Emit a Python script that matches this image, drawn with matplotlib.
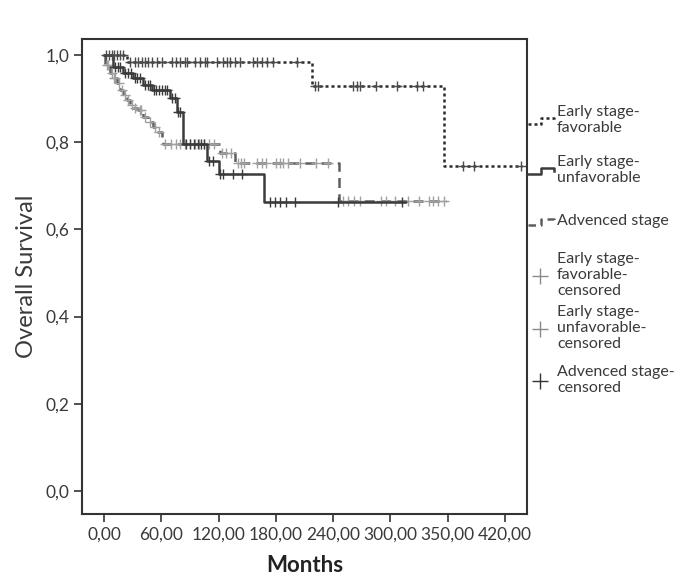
import matplotlib
matplotlib.use('Agg')
import matplotlib.pyplot as plt
import numpy as np

plt.rcParams['font.family'] = ['Lato', 'DejaVu Sans']

# Kaplan-Meier steps (months, survival)
fav_t = [0, 24, 218, 356]
fav_s = [1.0, 0.985, 0.93, 0.745]
fav_end = 438
fav_cens = [2, 5, 8, 11, 14, 17, 20, 27, 33, 36, 40, 43, 46, 50, 56, 61, 71, 75,
            80, 85, 87, 95, 101, 106, 108, 118, 125, 129, 132, 137, 142, 156, 160,
            165, 171, 177, 202, 221, 224, 261, 265, 268, 285, 307, 328, 334, 376,
            388, 437]

unf_t = [0, 9, 20, 30, 41, 50, 69, 77, 83, 108, 120, 168]
unf_s = [1.0, 0.972, 0.959, 0.947, 0.931, 0.92, 0.901, 0.869, 0.797, 0.758, 0.727, 0.663]
unf_end = 315
unf_cens = [12, 15, 17, 22, 25, 28, 32, 35, 38, 43, 46, 48, 52, 55, 58, 61, 64, 66,
            71, 74, 78, 80, 86, 90, 94, 98, 102, 105, 110, 114, 122, 125, 135, 145,
            174, 179, 184, 191, 200, 245, 312]

adv_t = [0, 1, 6, 9, 14, 17, 20, 24, 27, 30, 36, 41, 46, 51, 56, 61, 62, 121, 137, 246]
adv_s = [1.0, 0.977, 0.959, 0.947, 0.936, 0.92, 0.908, 0.897, 0.885, 0.878, 0.874,
         0.858, 0.846, 0.835, 0.823, 0.812, 0.797, 0.775, 0.752, 0.665]
adv_end = 358
adv_cens = [3, 4, 8, 11, 12, 16, 19, 22, 25, 29, 33, 38, 39, 43, 48, 53, 58, 64, 70,
            75, 80, 85, 90, 95, 100, 105, 110, 115, 124, 128, 133, 140, 143, 147,
            160, 165, 170, 180, 184, 188, 193, 205, 222, 235, 250, 256, 262, 268,
            290, 295, 305, 318, 330, 340, 345, 350, 356]

xtick_pos = [0, 60, 120, 180, 240, 300, 360, 420]
xtick_lab = ['0,00', '60,00', '120,00', '180,00', '240,00', '300,00', '350,00', '420,00']
ytick_pos = [0.0, 0.2, 0.4, 0.6, 0.8, 1.0]
ytick_lab = ['0,0', '0,2', '0,4', '0,6', '0,8', '1,0']


def level_at(times, surv, t):
    idx = np.searchsorted(times, t, side='right') - 1
    return np.array(surv)[idx]


fig = plt.figure(figsize=(6.86, 5.82), dpi=100)
ax = fig.add_axes([82 / 686, 68 / 582, 445 / 686, 475 / 582])

curves = [
    (adv_t, adv_s, adv_end, adv_cens, '#5e5e5e', (0, (4, 2.5)), '#a0a0a0'),
    (unf_t, unf_s, unf_end, unf_cens, '#3c3c3c', '-', '#3a3a3a'),
    (fav_t, fav_s, fav_end, fav_cens, '#2a2a2a', (0, (1.2, 1.2)), '#4a4a4a'),
]
for t, s, end, cens, col, ls, ccol in curves:
    ax.step(t + [end], s + [s[-1]], where='post', color=col, lw=1.8, ls=ls)
    ax.plot(cens, level_at(t, s, cens), ls='none', marker='+', ms=7,
            mew=1.0, color=ccol)

ax.set_xlim(-23, 443)
ax.set_ylim(-0.053, 1.037)
ax.set_xticks(xtick_pos)
ax.set_xticklabels(xtick_lab)
ax.set_yticks(ytick_pos)
ax.set_yticklabels(ytick_lab)
ax.tick_params(labelsize=12.5, length=6, width=1.2, color='#333333',
               labelcolor='#3a3a3a', pad=3)
for sp in ax.spines.values():
    sp.set_linewidth(1.5)
    sp.set_color('#333333')
ax.set_xlabel('Months', fontsize=16, fontweight='bold', color='#222222', labelpad=9)
ax.set_ylabel('Overall Survival', fontsize=17, color='#3a3a3a', labelpad=6)

# legend drawn outside the axes, in pixel space
lax = fig.add_axes([0, 0, 1, 1])
lax.set_xlim(0, 686)
lax.set_ylim(582, 0)
lax.axis('off')

step_x = [528, 541, 541, 554, 554]
step_items = [
    ('Early stage-\nfavorable', 121, '#2a2a2a', (0, (1.2, 1.2))),
    ('Early stage-\nunfavorable', 171, '#3c3c3c', '-'),
    ('Advenced stage', 222, '#5e5e5e', (0, (3, 2))),
]
for lab, yc, col, ls in step_items:
    lax.plot(step_x, [yc + 3, yc + 3, yc - 3, yc - 3, yc], color=col, lw=1.8, ls=ls)
    lax.text(557, yc - 1, lab, fontsize=11.5, color='#3a3a3a',
             va='center', ha='left', linespacing=1.15)

cens_items = [
    ('Early stage-\nfavorable-\ncensored', 276, '#8a8a8a'),
    ('Early stage-\nunfavorable-\ncensored', 329, '#8a8a8a'),
    ('Advenced stage-\ncensored', 381, '#333333'),
]
for lab, yc, col in cens_items:
    lax.plot([540], [yc], marker='+', ms=11, mew=1.0, color=col)
    lax.text(557, yc - 1, lab, fontsize=11.5, color='#3a3a3a',
             va='center', ha='left', linespacing=1.15)

fig.savefig('out.png', dpi=100)
